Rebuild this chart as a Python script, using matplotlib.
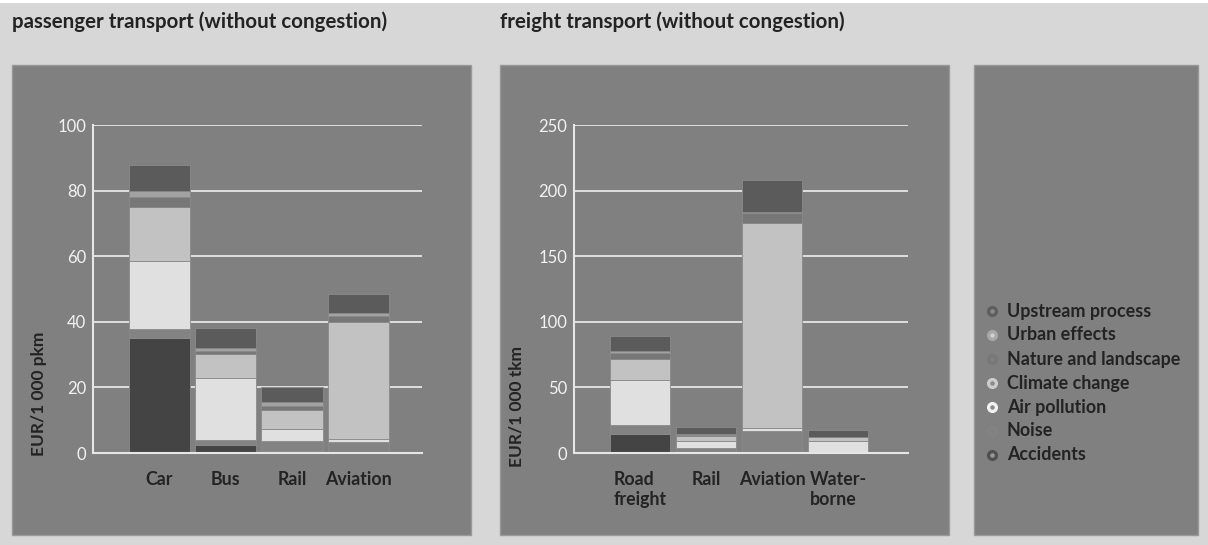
import numpy as np
import matplotlib.pyplot as plt
from matplotlib.patches import Rectangle

# ---- data (EUR per 1 000 pkm / tkm), stacked bottom -> top ----
series_names = ["Accidents", "Noise", "Air pollution", "Climate change",
                "Nature and landscape", "Urban effects", "Upstream process"]
series_colors = ["#444444", "#838383", "#e0e0e0", "#c2c2c2",
                 "#777777", "#a2a2a2", "#5b5b5b"]

pass_categories = ["Car", "Bus", "Rail", "Aviation"]
pass_accidents = [35.2, 2.5, 0.6, 0.3]
pass_noise = [2.6, 1.5, 3.0, 3.0]
pass_air = [20.8, 18.9, 3.8, 1.1]
pass_climate = [16.5, 7.2, 5.7, 35.4]
pass_nature = [3.0, 1.0, 1.2, 2.1]
pass_urban = [1.8, 0.8, 1.2, 0.8]
pass_upstream = [7.9, 6.2, 4.7, 5.7]

freight_categories = ["Road\nfreight", "Rail", "Aviation", "Water-\nborne"]
freight_accidents = [14.2, 0.3, 0.0, 0.0]
freight_noise = [6.9, 3.5, 16.5, 0.0]
freight_air = [34.5, 5.1, 2.5, 9.4]
freight_climate = [16.0, 4.1, 156.1, 3.0]
freight_nature = [4.9, 0.9, 8.1, 0.0]
freight_urban = [1.2, 0.9, 0.3, 0.0]
freight_upstream = [11.7, 5.1, 24.6, 5.3]

pass_ticks = [0, 20, 40, 60, 80, 100]
freight_ticks = [0, 50, 100, 150, 200, 250]

plt.rcParams['font.family'] = ['Lato', 'DejaVu Sans']
TXT = "#232323"
GRID = "#e6e6e6"

W, H = 1208, 545
fig = plt.figure(figsize=(W / 100, H / 100), dpi=100)
fig.patch.set_facecolor("#d7d7d7")

# background layer: panels, titles, legend (pixel coordinates)
bg = fig.add_axes([0, 0, 1, 1], zorder=0)
bg.set_xlim(0, W)
bg.set_ylim(H, 0)
bg.axis('off')
bg.add_patch(Rectangle((0, 0), W, 2.5, fc="white", ec="none"))
for x0, w in [(12, 459), (500, 449), (974, 224)]:
    bg.add_patch(Rectangle((x0, 65), w, 470, fc="#808080", ec="#999999", lw=1))

bg.text(12, 22, "passenger transport (without congestion)", fontsize=14.8,
        weight='bold', color=TXT, va='center')
bg.text(500, 22, "freight transport (without congestion)", fontsize=14.8,
        weight='bold', color=TXT, va='center')

# legend
legend_names = series_names[::-1]
legend_outer = ["#5e5e5e", "#a8a8a8", "#787878", "#cdcdcd", "#f2f2f2", "#838383", "#505050"]
legend_inner = ["#8c8c8c", "#d0d0d0", "#808080", "#8a8a8a", "#8a8a8a", "#808080", "#9a9a9a"]
legend_y = [311, 335, 359, 383, 407, 431, 455]
for name, yy, co, ci in zip(legend_names, legend_y, legend_outer, legend_inner):
    bg.plot(992, yy, 'o', ms=7, mfc=co, mec=co)
    bg.plot(992, yy, 'o', ms=2.2, mfc=ci, mec=ci)
    bg.text(1007, yy, name, fontsize=12.9, weight='bold', color=TXT, va='center')


def stacked(ax, cats, data, ticks, ylabel, lab_xy):
    x = np.arange(len(cats))
    bottom = np.zeros(len(cats))
    for vals, col in zip(data, series_colors):
        vals = np.array(vals)
        ax.bar(x, vals, 0.92, bottom=bottom, color=col, edgecolor="#8a8a8a",
               linewidth=0.6, zorder=2)
        bottom += vals
    ax.set_facecolor("none")
    ax.set_ylim(ticks[0], ticks[-1])
    ax.set_yticks(ticks)
    ax.set_xticks(x)
    ax.set_xticklabels(cats, fontsize=12.8, weight='bold', color=TXT,
                       multialignment='left', linespacing=1.2)
    ax.tick_params(axis='x', length=0, pad=13)
    ax.tick_params(axis='y', length=0, pad=5, labelsize=12, labelcolor="#f2f2f2")
    for s in ['top', 'right']:
        ax.spines[s].set_visible(False)
    for s in ['left', 'bottom']:
        ax.spines[s].set_color(GRID)
        ax.spines[s].set_linewidth(1.5)
    ax.grid(axis='y', color=GRID, linewidth=1.3, zorder=1)
    ax.set_axisbelow(True)
    ax.set_ylabel(ylabel, fontsize=12.5, weight='bold', color=TXT)
    ax.yaxis.set_label_coords(*lab_xy)


ax1 = fig.add_axes([93 / W, 1 - 453 / H, 329 / W, 328 / H], zorder=1)
stacked(ax1, pass_categories,
        [pass_accidents, pass_noise, pass_air, pass_climate,
         pass_nature, pass_urban, pass_upstream],
        pass_ticks, "EUR/1 000 pkm", (-0.14, 0.18))
ax1.set_xlim(-1.0, 3.96)

ax2 = fig.add_axes([574 / W, 1 - 453 / H, 334 / W, 328 / H], zorder=1)
stacked(ax2, freight_categories,
        [freight_accidents, freight_noise, freight_air, freight_climate,
         freight_nature, freight_urban, freight_upstream],
        freight_ticks, "EUR/1 000 tkm", (-0.147, 0.143))
ax2.set_xlim(-1.0, 4.06)

fig.savefig("out.png", dpi=100, facecolor=fig.get_facecolor())
